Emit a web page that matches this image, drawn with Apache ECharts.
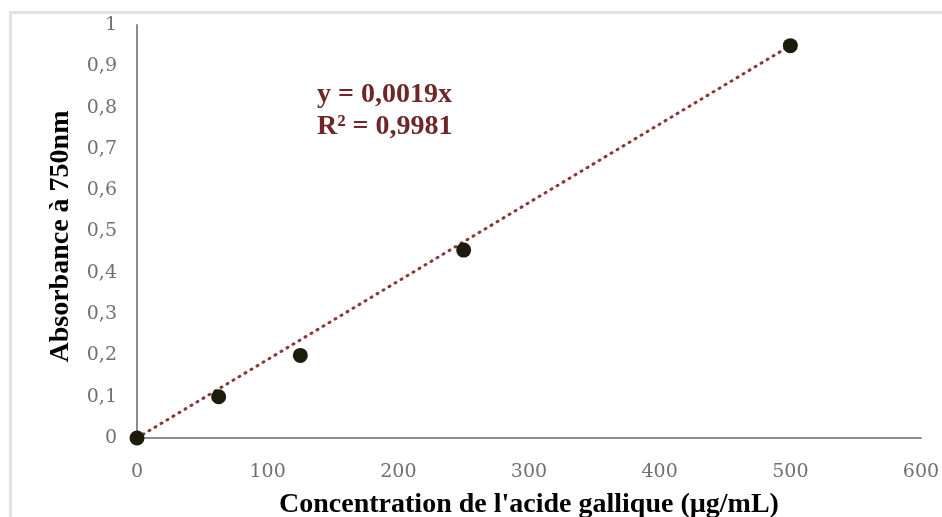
<!DOCTYPE html>
<html>
<head>
<meta charset="utf-8">
<script src="https://cdn.jsdelivr.net/npm/echarts@6/dist/echarts.min.js"></script>
<style>html,body{margin:0;padding:0;background:#fff}#c{width:942px;height:517px}</style>
</head>
<body>
<div id="c"></div>
<script>
const concentrations = [0, 62.5, 125, 250, 500];
const absorbances = [0, 0.1, 0.2, 0.455, 0.95];
const trendX = [0, 500];
const trendY = [0, 0.95];
const equationLines = ['y = 0,0019x', 'R² = 0,9981'];
const xTitle = "Concentration de l'acide gallique (µg/mL)";
const yTitle = 'Absorbance à 750nm';

const chart = echarts.init(document.getElementById('c'));
chart.setOption({
  animation: false,
  backgroundColor: '#fff',
  graphic: [{
    type: 'rect', left: 8, top: 10,
    shape: { width: 960, height: 540 },
    style: { fill: 'none', stroke: '#e2e2e2', lineWidth: 3 },
    silent: true, z: -1
  }, {
    type: 'text', left: 317, top: 79,
    style: {
      text: equationLines.join('\n'),
      fill: '#6e2626',
      font: 'bold 28px "Liberation Serif", serif',
      lineHeight: 32
    }
  }],
  grid: { left: 137, right: 21, top: 25, bottom: 79, containLabel: false, outerBoundsMode: 'none' },
  xAxis: {
    type: 'value', min: 0, max: 600, interval: 100,
    name: xTitle, nameLocation: 'middle', nameGap: 53,
    nameTextStyle: { color: '#000', fontFamily: 'Liberation Serif', fontWeight: 'bold', fontSize: 28 },
    axisLine: { show: true, onZero: false, lineStyle: { color: '#8c8c8c', width: 2 } },
    axisTick: { show: false },
    splitLine: { show: false },
    axisLabel: { color: '#707070', fontFamily: 'DejaVu Serif', fontSize: 19, margin: 25 }
  },
  yAxis: {
    type: 'value', min: 0, max: 1, interval: 0.1,
    name: yTitle, nameLocation: 'middle', nameGap: 62, nameRotate: 90,
    nameTextStyle: { color: '#000', fontFamily: 'Liberation Serif', fontWeight: 'bold', fontSize: 28, padding: [0, 10, 0, 0] },
    axisLine: { show: true, lineStyle: { color: '#8c8c8c', width: 2 } },
    axisTick: { show: false },
    splitLine: { show: false },
    axisLabel: {
      color: '#707070', fontFamily: 'DejaVu Serif', fontSize: 19, margin: 20,
      formatter: v => String(Math.round(v * 10) / 10).replace('.', ',')
    }
  },
  series: [{
    type: 'line',
    data: trendX.map((x, i) => [x, trendY[i]]),
    showSymbol: false, symbol: 'none',
    lineStyle: { color: '#8b3535', width: 3, type: [1, 6], cap: 'round' },
    z: 2, silent: true
  }, {
    type: 'scatter',
    data: concentrations.map((x, i) => [x, absorbances[i]]),
    symbol: 'circle', symbolSize: 15,
    itemStyle: { color: '#1c1b0c', opacity: 1 },
    z: 3
  }]
});
</script>
</body>
</html>
